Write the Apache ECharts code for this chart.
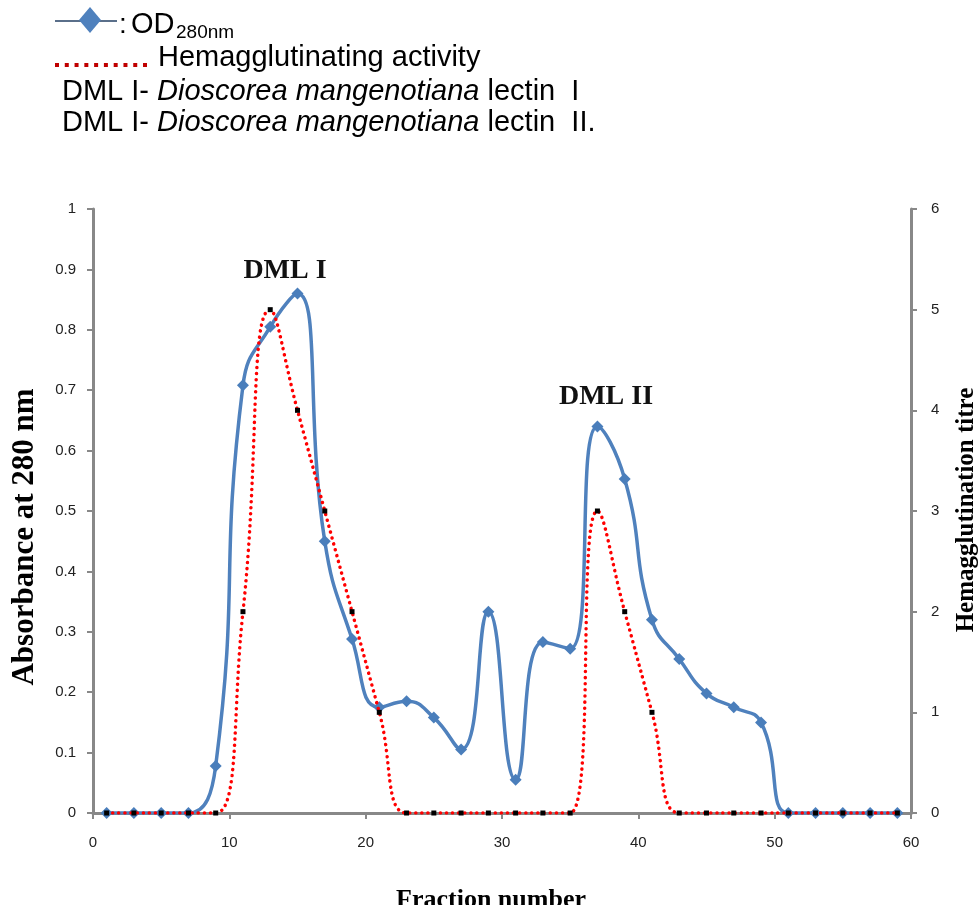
<!DOCTYPE html>
<html>
<head>
    <meta charset="utf-8">
    <script src="https://cdn.jsdelivr.net/npm/echarts@6/dist/echarts.min.js"></script>
    <style>
        html, body { margin: 0; padding: 0; background: #fff; }
        #main { width: 979px; height: 905px; }
    </style>
</head>
<body>
    <div id="main"></div>
    <script type="text/javascript">
        var fractions = [1, 3, 5, 7, 9, 11, 13, 15, 17, 19, 21, 23, 25, 27, 29,
                         31, 33, 35, 37, 39, 41, 43, 45, 47, 49, 51, 53, 55, 57, 59];
        var od280 = [0, 0, 0, 0, 0.078, 0.708, 0.805, 0.86, 0.45, 0.288,
                     0.175, 0.185, 0.158, 0.105, 0.333, 0.055, 0.283, 0.272, 0.64, 0.553,
                     0.32, 0.255, 0.198, 0.175, 0.15, 0, 0, 0, 0, 0];
        var titre = [0, 0, 0, 0, 0, 2, 5, 4, 3, 2,
                     1, 0, 0, 0, 0, 0, 0, 0, 3, 2,
                     1, 0, 0, 0, 0, 0, 0, 0, 0, 0];
        var peakNames = ['DML I', 'DML II'];

        var myChart = echarts.init(document.getElementById('main'));

        var axisGrey = '#888888';
        var sansFont = 'Liberation Sans';
        var serifFont = 'Liberation Serif';

        var odData = fractions.map(function (f, i) { return [f, od280[i]]; });
        var titreData = fractions.map(function (f, i) { return [f, titre[i]]; });

        var legendRich = {
            n: { fontFamily: sansFont, fontSize: 29, fill: '#000' },
            i: { fontFamily: sansFont, fontSize: 29, fontStyle: 'italic', fill: '#000' }
        };

        myChart.setOption({
            animation: false,
            grid: { left: 93, right: 68, top: 209, bottom: 92 },
            xAxis: {
                type: 'value',
                min: 0,
                max: 60,
                interval: 10,
                splitLine: { show: false },
                axisLine: { onZero: false, lineStyle: { color: axisGrey, width: 3 } },
                axisTick: { length: 6, lineStyle: { color: axisGrey, width: 2 } },
                axisLabel: { margin: 22, color: '#222', fontFamily: sansFont, fontSize: 15 }
            },
            yAxis: [{
                type: 'value',
                min: 0,
                max: 1,
                interval: 0.1,
                splitLine: { show: false },
                axisLine: { show: true, lineStyle: { color: axisGrey, width: 3 } },
                axisTick: { show: true, length: 6, lineStyle: { color: axisGrey, width: 2 } },
                axisLabel: { margin: 17, color: '#222', fontFamily: sansFont, fontSize: 15 }
            }, {
                type: 'value',
                position: 'right',
                min: 0,
                max: 6,
                interval: 1,
                splitLine: { show: false },
                axisLine: { show: true, lineStyle: { color: axisGrey, width: 3 } },
                axisTick: { show: true, length: 6, lineStyle: { color: axisGrey, width: 2 } },
                axisLabel: { margin: 20, color: '#222', fontFamily: sansFont, fontSize: 15 }
            }],
            series: [{
                name: 'OD280nm',
                type: 'line',
                yAxisIndex: 0,
                smooth: 0.5,
                symbol: 'diamond',
                symbolSize: 12,
                z: 2,
                lineStyle: { color: '#4f81bd', width: 3.5 },
                itemStyle: { color: '#4a7ebb' },
                data: odData
            }, {
                name: 'Hemagglutinating activity',
                type: 'line',
                yAxisIndex: 1,
                smooth: 0.5,
                symbol: 'rect',
                symbolSize: 5,
                z: 3,
                lineStyle: { color: '#ff0000', width: 3.5, type: [0.1, 6], cap: 'round' },
                itemStyle: { color: '#000000' },
                data: titreData
            }],
            graphic: [
                // legend block at top
                { type: 'line', shape: { x1: 55, y1: 21, x2: 117, y2: 21 },
                  style: { stroke: '#5a6f8a', lineWidth: 2 } },
                { type: 'polygon', shape: { points: [[90, 7], [101, 20], [90, 33], [79, 20]] },
                  style: { fill: '#4f81bd' } },
                { type: 'text', x: 119, y: 25,
                  style: { text: ':', font: '28px ' + sansFont, fill: '#000', verticalAlign: 'middle' } },
                { type: 'text', x: 131, y: 25,
                  style: { text: 'OD', font: '29px ' + sansFont, fill: '#000', verticalAlign: 'middle' } },
                { type: 'text', x: 176, y: 33,
                  style: { text: '280nm', font: '19px ' + sansFont, fill: '#000', verticalAlign: 'middle' } },
                { type: 'line', shape: { x1: 55, y1: 65, x2: 147, y2: 65 },
                  style: { stroke: '#c00000', lineWidth: 4, lineDash: [4, 5.78] } },
                { type: 'text', x: 158, y: 58,
                  style: { text: 'Hemagglutinating activity', font: '29px ' + sansFont, fill: '#000', verticalAlign: 'middle' } },
                { type: 'text', x: 62, y: 92,
                  style: {
                      text: '{n|DML I- }{i|Dioscorea mangenotiana}{n| lectin  I}',
                      verticalAlign: 'middle',
                      rich: legendRich
                  } },
                { type: 'text', x: 62, y: 123,
                  style: {
                      text: '{n|DML I- }{i|Dioscorea mangenotiana}{n| lectin  II.}',
                      verticalAlign: 'middle',
                      rich: legendRich
                  } },
                // peak labels
                { type: 'text', x: 285, y: 271,
                  style: { text: peakNames[0], font: 'bold 28px ' + serifFont, fill: '#111', align: 'center', verticalAlign: 'middle' } },
                { type: 'text', x: 606, y: 397,
                  style: { text: peakNames[1], font: 'bold 28px ' + serifFont, fill: '#111', align: 'center', verticalAlign: 'middle' } },
                // axis titles
                { type: 'text', x: 25, y: 537, rotation: Math.PI / 2,
                  style: { text: 'Absorbance at 280 nm', font: 'bold 31px ' + serifFont, fill: '#000', align: 'center', verticalAlign: 'middle' } },
                { type: 'text', x: 967, y: 510, rotation: Math.PI / 2,
                  style: { text: 'Hemagglutination titre', font: 'bold 25px ' + serifFont, fill: '#000', align: 'center', verticalAlign: 'middle' } },
                { type: 'text', x: 491, y: 900,
                  style: { text: 'Fraction number', font: 'bold 26px ' + serifFont, fill: '#000', align: 'center', verticalAlign: 'middle' } }
            ]
        });
    </script>
</body>
</html>
